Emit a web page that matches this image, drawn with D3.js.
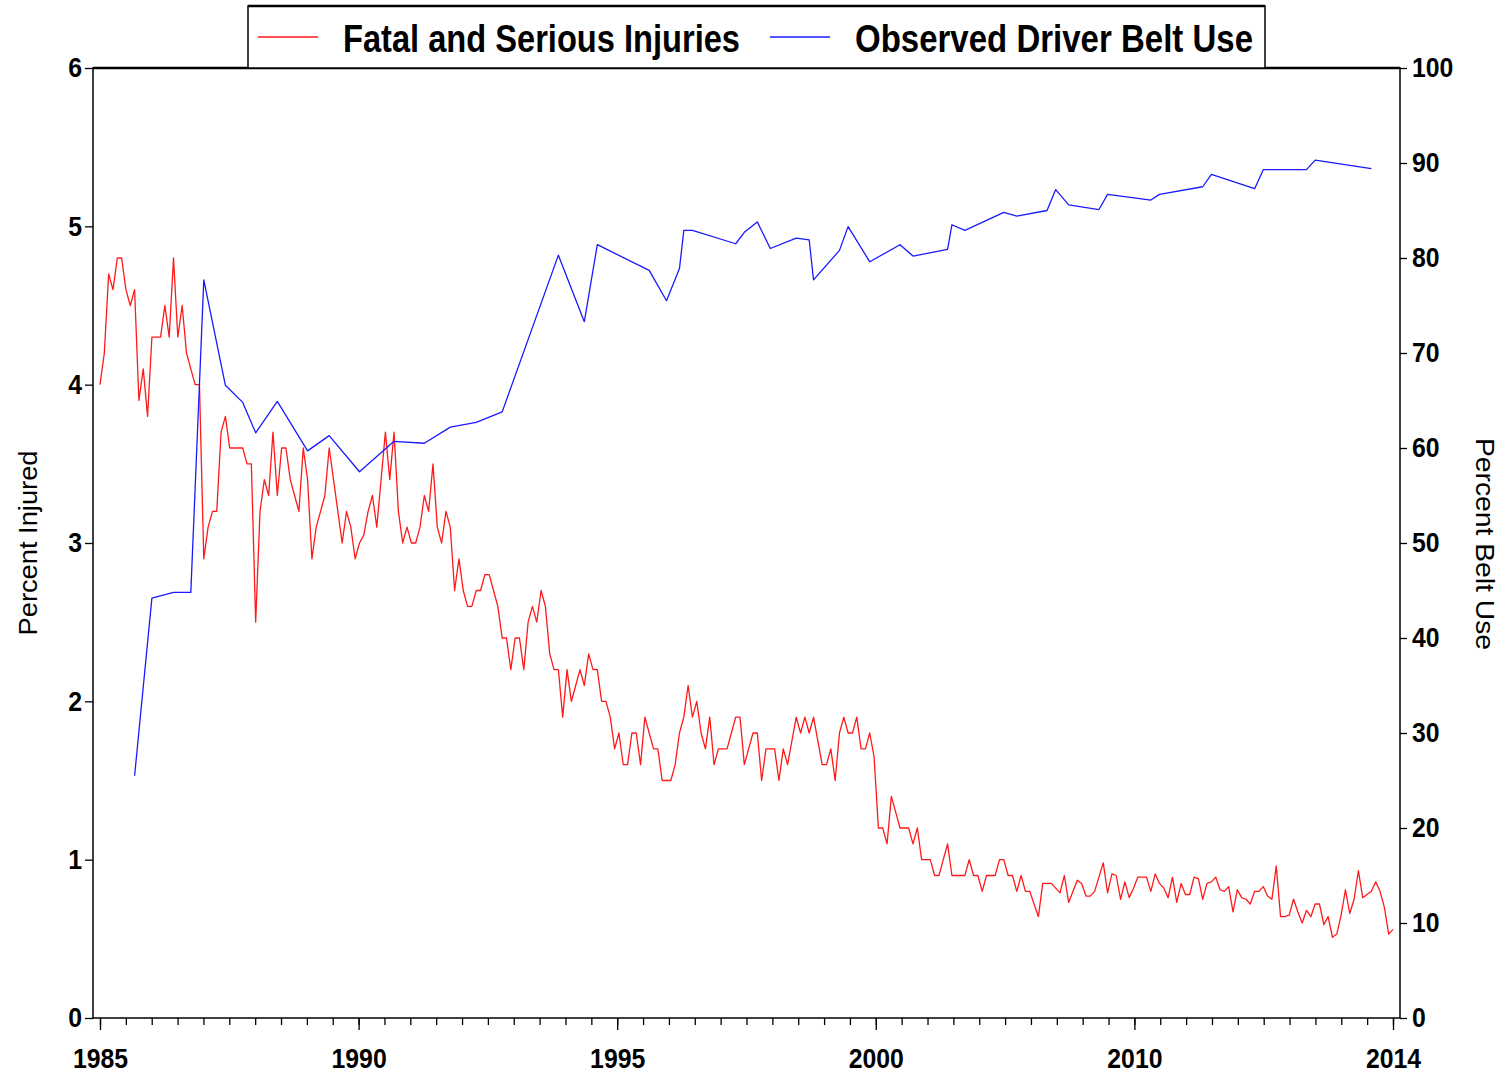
<!DOCTYPE html>
<html><head><meta charset="utf-8">
<script src="https://cdn.jsdelivr.net/npm/d3@7"></script>
<style>body{margin:0;background:#fff}svg{display:block}</style>
</head><body>
<svg id="chart" width="1505" height="1074"></svg>
<script>
// Monthly percent of crashes with fatal/serious injury (index 0 = first month)
const injuryPct = [
  4.0,4.2,4.7,4.6,4.8,4.8,4.6,4.5,4.6,3.9,
  4.1,3.8,4.3,4.3,4.3,4.5,4.3,4.8,4.3,4.5,
  4.2,4.1,4.0,4.0,2.9,3.1,3.2,3.2,3.7,3.8,
  3.6,3.6,3.6,3.6,3.5,3.5,2.5,3.2,3.4,3.3,
  3.7,3.3,3.6,3.6,3.4,3.3,3.2,3.6,3.4,2.9,
  3.1,3.2,3.3,3.6,3.4,3.2,3.0,3.2,3.1,2.9,
  3.0,3.05,3.2,3.3,3.1,3.4,3.7,3.4,3.7,3.2,
  3.0,3.1,3.0,3.0,3.1,3.3,3.2,3.5,3.1,3.0,
  3.2,3.1,2.7,2.9,2.7,2.6,2.6,2.7,2.7,2.8,
  2.8,2.7,2.6,2.4,2.4,2.2,2.4,2.4,2.2,2.5,
  2.6,2.5,2.7,2.6,2.3,2.2,2.2,1.9,2.2,2.0,
  2.1,2.2,2.1,2.3,2.2,2.2,2.0,2.0,1.9,1.7,
  1.8,1.6,1.6,1.8,1.8,1.6,1.9,1.8,1.7,1.7,
  1.5,1.5,1.5,1.6,1.8,1.9,2.1,1.9,2.0,1.8,
  1.7,1.9,1.6,1.7,1.7,1.7,1.8,1.9,1.9,1.6,
  1.7,1.8,1.8,1.5,1.7,1.7,1.7,1.5,1.7,1.6,
  1.75,1.9,1.8,1.9,1.8,1.9,1.75,1.6,1.6,1.7,
  1.5,1.8,1.9,1.8,1.8,1.9,1.7,1.7,1.8,1.65,
  1.2,1.2,1.1,1.4,1.3,1.2,1.2,1.2,1.1,1.2,
  1.0,1.0,1.0,0.9,0.9,1.0,1.1,0.9,0.9,0.9,
  0.9,1.0,0.9,0.9,0.8,0.9,0.9,0.9,1.0,1.0,
  0.9,0.9,0.8,0.9,0.8,0.8,0.72,0.64,0.85,0.85,
  0.85,0.82,0.79,0.9,0.73,0.8,0.87,0.85,0.77,0.77,
  0.8,0.89,0.98,0.79,0.91,0.9,0.75,0.86,0.76,0.82,
  0.89,0.89,0.89,0.8,0.91,0.85,0.82,0.76,0.89,0.73,
  0.85,0.78,0.78,0.89,0.88,0.75,0.85,0.86,0.89,0.81,
  0.8,0.83,0.67,0.81,0.76,0.75,0.72,0.8,0.8,0.83,
  0.77,0.75,0.96,0.64,0.64,0.65,0.75,0.67,0.6,0.68,
  0.64,0.72,0.72,0.59,0.64,0.51,0.53,0.65,0.81,0.66,
  0.75,0.93,0.76,0.78,0.8,0.86,0.8,0.7,0.53,0.56
];
// Observed driver belt use surveys: month index and percent
const beltMonth = [8,12,17,21,24,29,33,36,41,48,53,60,68,75,81,87,93,106,112,115,
  127,131,134,135,137,147,149,152,155,161,164,165,171,173,178,185,188,196,197,200,
  209,212,219,221,224,231,233,243,245,255,257,267,269,279,281,294];
const beltPct = [25.5,44.2,44.8,44.8,77.7,66.6,64.8,61.6,64.9,59.7,61.3,57.5,60.7,60.5,62.2,62.7,63.8,80.3,73.3,81.4,
  78.7,75.5,78.9,82.9,82.9,81.5,82.7,83.8,81.0,82.1,81.9,77.7,80.8,83.3,79.6,81.4,80.2,80.9,83.5,82.9,
  84.8,84.4,85.0,87.2,85.6,85.1,86.7,86.1,86.7,87.5,88.8,87.3,89.3,89.3,90.3,89.4];

const xTickValues = [0, 59.8, 119.6, 179.4, 239.2, 299];
const xTickLabels = ['1985','1990','1995','2000','2010','2014'];
const leftTicks = [0,1,2,3,4,5,6];
const rightTicks = [0,10,20,30,40,50,60,70,80,90,100];
const seriesNames = ['Fatal and Serious Injuries','Observed Driver Belt Use'];
const seriesColors = ['#ff1a1a','#1a1aff'];

const svg = d3.select('#chart');
const F = {l:93, r:1400, t:68, b:1018};
const x = d3.scaleLinear().domain([0,299]).range([100,1393]);
const yL = d3.scaleLinear().domain([0,6]).range([F.b,F.t]);
const yR = d3.scaleLinear().domain([0,100]).range([F.b,F.t]);
const font = '"Liberation Sans", Arial, Helvetica, sans-serif';

// frame
svg.append('rect').attr('x',F.l).attr('y',F.t).attr('width',F.r-F.l).attr('height',F.b-F.t)
  .attr('fill','none').attr('stroke','#000').attr('stroke-width',1.5);
svg.append('line').attr('x1',F.l).attr('x2',F.r).attr('y1',F.t).attr('y2',F.t).attr('stroke','#000').attr('stroke-width',2.5);

function styleAxis(g){
  g.select('.domain').remove();
  g.selectAll('line').attr('stroke','#000').attr('stroke-width',1.3);
  g.selectAll('text').attr('font-family',font).attr('font-weight','bold').attr('font-size',28).attr('fill','#000')
    .attr('textLength',function(){ return 13.8*this.textContent.length; })
    .attr('lengthAdjust','spacingAndGlyphs');
}
svg.append('g').attr('transform',`translate(${F.l},0)`)
  .call(d3.axisLeft(yL).tickValues(leftTicks).tickFormat(d3.format('d')).tickSize(8).tickPadding(3))
  .call(styleAxis);
svg.append('g').attr('transform',`translate(${F.r},0)`)
  .call(d3.axisRight(yR).tickValues(rightTicks).tickFormat(d3.format('d')).tickSize(7).tickPadding(5))
  .call(styleAxis);
// minor x ticks
const minor = d3.range(0,51).map(k=>k*299/50);
svg.append('g').attr('transform',`translate(0,${F.b})`)
  .call(d3.axisBottom(x).tickValues(minor).tickFormat('').tickSize(7))
  .call(styleAxis);
svg.append('g').attr('transform',`translate(0,${F.b})`)
  .call(d3.axisBottom(x).tickValues(xTickValues).tickFormat((d,i)=>xTickLabels[i]).tickSize(12).tickPadding(18))
  .call(styleAxis);

// axis titles
svg.append('text').attr('transform',`translate(37,543) rotate(-90)`).attr('text-anchor','middle')
  .attr('font-family',font).attr('font-size',26).attr('textLength',185).attr('lengthAdjust','spacingAndGlyphs')
  .text('Percent Injured');
svg.append('text').attr('transform',`translate(1476,544) rotate(90)`).attr('text-anchor','middle')
  .attr('font-family',font).attr('font-size',26).attr('textLength',212).attr('lengthAdjust','spacingAndGlyphs')
  .text('Percent Belt Use');

// lines
const plot = svg.append('g');
plot.append('path').datum(injuryPct)
  .attr('d', d3.line().x((d,i)=>x(i)).y(d=>yL(d)))
  .attr('fill','none').attr('stroke',seriesColors[0]).attr('stroke-width',1.3).attr('stroke-linejoin','round');
plot.append('path').datum(beltMonth.map((m,i)=>[m,beltPct[i]]))
  .attr('d', d3.line().x(d=>x(d[0])).y(d=>yR(d[1])))
  .attr('fill','none').attr('stroke',seriesColors[1]).attr('stroke-width',1.3).attr('stroke-linejoin','round');

// legend
const lg = svg.append('g');
lg.append('rect').attr('x',248).attr('y',6).attr('width',1017).attr('height',F.t-6)
  .attr('fill','#fff').attr('stroke','#000').attr('stroke-width',1.5);
lg.append('line').attr('x1',248).attr('x2',1265).attr('y1',6).attr('y2',6).attr('stroke','#000').attr('stroke-width',2.5);
const items = [{sx:258, tx:343, tl:397},{sx:770, tx:855, tl:398}];
items.forEach((it,i)=>{
  lg.append('line').attr('x1',it.sx).attr('x2',it.sx+60).attr('y1',37).attr('y2',37)
    .attr('stroke',seriesColors[i]).attr('stroke-width',1.3);
  lg.append('text').attr('x',it.tx).attr('y',52).attr('font-family',font).attr('font-weight','bold')
    .attr('font-size',38).attr('textLength',it.tl).attr('lengthAdjust','spacingAndGlyphs')
    .text(seriesNames[i]);
});
</script>
</body></html>
